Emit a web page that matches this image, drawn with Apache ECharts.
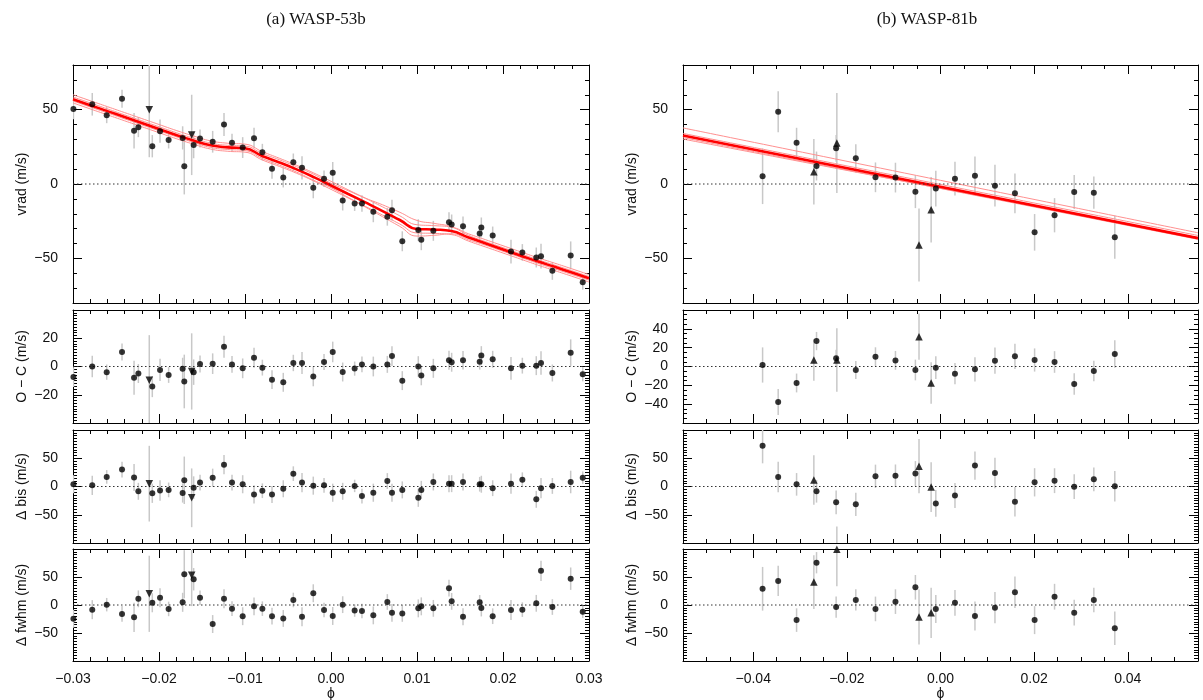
<!DOCTYPE html>
<html>
<head>
<meta charset="utf-8">
<script src="https://cdn.jsdelivr.net/npm/echarts@6/dist/echarts.min.js"></script>
<style>html,body{margin:0;background:#fff}#chart{width:1203px;height:700px}</style>
</head>
<body>
<div id="chart"></div>
<script>
// ---- WASP-53b (left) ----
var phaseA = [-0.02995,-0.02776,-0.02608,-0.0243,-0.0229,-0.0224,-0.02113,-0.02078,-0.01988,-0.01888,-0.01725,-0.01706,-0.0162,-0.01597,-0.01523,-0.01376,-0.01244,-0.01151,-0.01027,-0.00895,-0.00798,-0.00686,-0.00555,-0.00438,-0.00337,-0.00206,-0.00081,0.0002,0.00136,0.00275,0.0036,0.00492,0.00655,0.00709,0.00829,0.01015,0.0105,0.0119,0.01372,0.01403,0.01535,0.01729,0.01748,0.0188,0.02093,0.02225,0.02387,0.02442,0.02574,0.02787,0.02927];
var markA = ['o','o','o','o','o','o','v','o','o','o','o','o','v','o','o','o','o','o','o','o','o','o','o','o','o','o','o','o','o','o','o','o','o','o','o','o','o','o','o','o','o','o','o','o','o','o','o','o','o','o','o'];
var vradA = [50.5,53.6,46.3,57.3,35.8,38.2,50,25.4,35.5,29.5,31,12,33,26.3,30.6,28.4,40,27.7,24.5,30.8,21.4,10.2,4.4,14.7,10.9,-2.6,3.5,7.5,-11.1,-13.1,-13.1,-18.7,-22,-17.6,-38.5,-31,-37.5,-31.5,-25.7,-27.2,-28.4,-33.3,-29.2,-34.6,-45.4,-46,-49.4,-48.5,-58.4,-48,-66];
var errA = [7,7.6,5.4,6,12,6.7,32,7.5,7.8,5.6,7.8,19,27,9,6,7.3,7.8,6,7,7,5.6,6.7,6.7,5.8,7.8,7,5.6,7.3,6.7,5,5.6,7,6,7,6.7,7.3,7,6.7,6.7,6.7,6.5,5.6,6.7,6,8,5.6,6.7,8.3,6,9.4,5];
var ocA = [-7.5,0,-4,10.3,-8,-5,-9.8,-14.2,-2.4,-6,-1.6,-10.6,-3.5,-4,1.8,2,14,1.5,-1.3,6.2,-0.8,-9.3,-11.2,2.5,2.5,-7,3.2,10.3,-3.9,-1.5,1.5,0,1.5,7.4,-10,0,-6.3,-1.3,4.4,3,4.4,3.4,7.7,5.1,-1.3,0.6,0.6,2.5,-4.6,9.8,-5.5];
var bisA = [4,2,17,30,16,-8.5,5,-12,-7,-6,-11.5,11,-20,-2,7,15.6,38.6,7,4,-14,-7.5,-14,-4,22.7,7,1.5,2,-11,-8.5,1,-17,-11,9.7,-11,-6,-20,-6,8,5,5,8,4,4,-3,5,12,-22.7,-3,1,8,15.6];
var errBisA = [16,17,12,14,24,15,67,17,18,13,17,42,52,20,14,16,17,14,16,16,13,15,15,13,17,16,13,16,15,11,13,16,14,16,15,16,16,15,15,15,15,13,15,14,18,13,15,18,14,20,11];
var fwhmA = [-24.5,-8.3,0.6,-16,-22,11,20,4,13,-7,4.8,55,53,46,13,-34,11,-6.5,-20,-2.4,-6.5,-20,-24,9,-21,21,-9,-19.6,0.6,-10,-10.7,-18.5,5.4,-14,-15,-6,-2.4,-6,30,6.5,-21,4.8,-5.4,-20,-9,-8.3,3,61,-3.6,47,-12];
var errFwhmA = [16,17,12,14,26,15,68,17,17,13,17,43,55,20,13,16,17,13,16,16,13,15,15,13,17,16,13,16,15,11,13,16,14,16,15,16,16,15,15,15,15,13,15,14,18,13,15,18,14,20,11];

var modelPhaseA = [-0.030,-0.028,-0.026,-0.024,-0.022,-0.020,-0.018,-0.016,-0.014,-0.012,-0.010,-0.008,-0.006,-0.004,-0.002,0.000,0.002,0.004,0.006,0.008,0.010,0.012,0.014,0.016,0.018,0.020,0.022,0.024,0.026,0.028,0.030];
var modelA = [57.0,53.0,49.0,45.0,41.0,37.0,33.0,29.3,26.0,24.6,24.0,18.8,14.5,9.8,4.6,-1.0,-6.7,-12.4,-18.2,-24.2,-30.2,-30.6,-31.6,-36.0,-40.0,-44.0,-48.0,-52.0,-55.7,-59.5,-63.4];
var pinkA1 = [60.0,56.0,52.0,48.0,44.0,40.0,36.0,32.3,29.0,27.4,26.8,21.8,17.3,12.6,7.4,1.8,-3.9,-9.6,-15.4,-21.4,-27.4,-28.0,-29.0,-33.5,-37.5,-41.5,-45.5,-49.5,-53.2,-57.0,-60.9];
var pinkA2 = [54.5,50.5,46.5,42.5,38.5,34.5,30.5,26.8,23.5,22.0,21.4,16.2,11.8,7.2,2.0,-3.6,-9.4,-15.1,-20.9,-26.9,-32.9,-33.2,-34.0,-38.4,-42.4,-46.4,-50.4,-54.4,-58.2,-62.0,-65.9];
var pinkA3 = [58.5,54.5,50.5,46.5,42.5,38.5,34.5,30.8,27.5,26.0,25.5,20.5,16.3,11.6,6.5,0.5,-4.5,-9.5,-14.0,-19.0,-24.5,-26.5,-28.8,-34.5,-38.8,-42.8,-46.8,-50.8,-54.5,-58.3,-62.2];
var pinkA4 = [55.8,51.8,47.8,43.8,39.8,35.8,31.8,28.0,24.6,23.2,22.5,17.2,12.7,8.0,2.5,-2.5,-9.0,-15.5,-22.0,-28.5,-35.0,-34.5,-33.5,-37.5,-41.2,-45.2,-49.2,-53.2,-57.0,-60.8,-64.6];

// ---- WASP-81b (right) ----
var phaseB = [-0.038,-0.03467,-0.03074,-0.02705,-0.02648,-0.02229,-0.02214,-0.01809,-0.01389,-0.00962,-0.00536,-0.00459,-0.0020,-0.0010,0.00309,0.00736,0.01163,0.0159,0.0201,0.02436,0.02856,0.03275,0.03723];
var markB = ['o','o','o','^','o','o','^','o','o','o','o','^','^','o','o','o','o','o','o','o','o','o','o'];
var vradB = [5.2,48.6,27.8,8.3,12.1,24,27.6,17.3,4.5,4.3,-5.2,-41,-17.3,-3.1,3.6,5.6,-1.1,-6.3,-32.5,-21,-5.4,-5.8,-35.8];
var errB = [18.7,13.8,10,22,9.7,9,33.6,9.5,10,10,11,24.6,22,12,11.3,12.9,14,13.4,12.3,11.5,11.4,10.9,14.5];
var ocB = [1.6,-37.7,-17.5,6.9,27,8.7,6.9,-3.7,10.4,6.5,-3.7,31.7,-17.5,-1.2,-7.6,-3,6.2,10.8,6.9,4.8,-18.6,-4.8,13.3];
var bisB = [72,16.8,3.8,11.5,-8.5,-28,-117,-31.6,18,19,23,36,-1,-30,-16,37,24,-27,7.4,10.3,-0.3,12.7,0.4];
var errBisB = [31,27,20,44,20,21,46,20.7,20.7,20,22,48,44,23.6,22,25,27,26,25,22,22,21,27];
var fwhmB = [29,43,-27,41,75.5,-3.6,99.5,9,-7,6,31.6,-21.5,-14,-7,4,-19.6,-4.8,22.7,-27,14.8,-13.8,9,-41.6];
var errFwhmB = [39,27,21,48,19,19,66,19,22,22,22,49,45,25,23,26,28,28,25,23,23,22,30];

var modelPhaseB = [-0.055, 0.055];
var modelB = [32.6, -36.4];
var pinkB1 = [37.7, -32.8];
var pinkB2 = [34.0, -34.6];
var pinkB3 = [31.2, -37.2];
var pinkB4 = [30.2, -36.0];

// tick values
var xMajorA = [-0.03,-0.02,-0.01,0,0.01,0.02,0.03];
var xMajorB = [-0.04,-0.02,0,0.02,0.04];
var vradTicks = [-50,0,50];
var ocTicksA = [-20,0,20];
var ocTicksB = [-40,-20,0,20,40];
var bisTicks = [-50,0,50];

var FONT = 'Liberation Sans';
var chart = echarts.init(document.getElementById('chart'));

function fmt(dec) {
    return function (v) {
        var s = Math.abs(v).toFixed(dec);
        return (v < -1e-9 ? '\u2212' : '') + s;
    };
}

var grids = [], xAxes = [], yAxes = [], series = [];

function addPanel(g, p) {
    grids.push(p.grid);
    var xi = xAxes.length, yi = yAxes.length;
    ['bottom', 'top'].forEach(function (pos) {
        xAxes.push({
            type: 'value', gridIndex: g, position: pos, min: p.xmin, max: p.xmax, interval: p.xstep,
            axisLine: { show: true, onZero: false, lineStyle: { color: '#000', width: 1 } },
            axisTick: { inside: true, length: 4, lineStyle: { color: '#000' } },
            axisLabel: { show: false }, splitLine: { show: false }
        });
        var major = {
            type: 'value', gridIndex: g, position: pos, min: p.xmin, max: p.xmax,
            axisLine: { show: false, onZero: false },
            axisTick: { inside: true, length: 9, customValues: p.xmajor, lineStyle: { color: '#000' } },
            axisLabel: { show: pos === 'bottom' && p.xlab, customValues: p.xmajor, formatter: fmt(2),
                margin: 11, fontFamily: FONT, fontSize: 14, color: '#111' },
            splitLine: { show: false }
        };
        if (pos === 'bottom' && p.xlab) {
            major.name = '\u03D5';
            major.nameLocation = 'middle';
            major.nameGap = 24;
            major.nameTextStyle = { fontFamily: FONT, fontSize: 14, color: '#111' };
        }
        xAxes.push(major);
    });
    ['left', 'right'].forEach(function (pos) {
        yAxes.push({
            type: 'value', gridIndex: g, position: pos, min: p.ymin, max: p.ymax, interval: p.ystep,
            axisLine: { show: true, onZero: false, lineStyle: { color: '#000', width: 1 } },
            axisTick: { inside: true, length: 4, lineStyle: { color: '#000' } },
            axisLabel: { show: false }, splitLine: { show: false }
        });
        var major = {
            type: 'value', gridIndex: g, position: pos, min: p.ymin, max: p.ymax,
            axisLine: { show: false, onZero: false },
            axisTick: { inside: true, length: 9, customValues: p.ymajor, lineStyle: { color: '#000' } },
            axisLabel: { show: pos === 'left', customValues: p.ymajor, formatter: fmt(0),
                margin: 15, fontFamily: FONT, fontSize: 14, color: '#111' },
            splitLine: { show: false }
        };
        if (pos === 'left') {
            major.name = p.yname;
            major.nameLocation = 'middle';
            major.nameGap = 44;
            major.nameTextStyle = { fontFamily: FONT, fontSize: 14, color: '#111' };
        }
        yAxes.push(major);
    });

    // zero line
    series.push({
        type: 'line', xAxisIndex: xi, yAxisIndex: yi, silent: true, symbol: 'none', z: 5,
        data: [[p.xmin, 0], [p.xmax, 0]],
        lineStyle: { color: '#333', width: 1, type: [1.5, 2.5] }
    });
    // error bars
    series.push({
        type: 'custom', xAxisIndex: xi, yAxisIndex: yi, clip: true, silent: true, z: 2,
        data: p.x.map(function (x, i) { return [x, p.y[i], p.e[i]]; }),
        renderItem: function (params, api) {
            var a = api.coord([api.value(0), api.value(1) - api.value(2)]);
            var b = api.coord([api.value(0), api.value(1) + api.value(2)]);
            return { type: 'line', shape: { x1: a[0], y1: a[1], x2: b[0], y2: b[1] },
                style: { stroke: '#c8c8c8', lineWidth: 1.5 } };
        }
    });
    // model lines
    if (p.models) {
        p.models.forEach(function (m, k) {
            var main = k === p.models.length - 1;
            series.push({
                type: 'line', xAxisIndex: xi, yAxisIndex: yi, silent: true, symbol: 'none',
                smooth: 0.5, z: main ? 4 : 3,
                data: p.mx.map(function (x, i) { return [x, m[i]]; }),
                lineStyle: main ? { color: '#ff0000', width: 2.6 } : { color: '#ff9090', width: 1 }
            });
        });
    }
    // points
    series.push({
        type: 'scatter', xAxisIndex: xi, yAxisIndex: yi, clip: true, silent: true, z: 6,
        itemStyle: { color: '#000' },
        data: p.x.map(function (x, i) {
            var mk = p.m[i];
            if (mk === 'o') return { value: [x, p.y[i]], symbol: 'circle', symbolSize: 6 };
            return { value: [x, p.y[i]], symbol: 'triangle', symbolSize: 7.5, symbolRotate: mk === 'v' ? 180 : 0 };
        })
    });
}

var rows = [[65, 238], [310, 113], [430, 113], [549, 112]];
var colA = { left: 73, width: 516, xmin: -0.03, xmax: 0.03, xstep: 0.002, xmajor: xMajorA };
var colB = { left: 683, width: 515, xmin: -0.055, xmax: 0.055, xstep: 0.005, xmajor: xMajorB };

function panel(col, r, extra) {
    var p = {
        grid: { left: col.left, top: rows[r][0], width: col.width, height: rows[r][1], containLabel: false, outerBoundsMode: 'none' },
        xmin: col.xmin, xmax: col.xmax, xstep: col.xstep, xmajor: col.xmajor, xlab: r === 3
    };
    for (var k in extra) p[k] = extra[k];
    return p;
}

var panels = [
    panel(colA, 0, { ymin: -80, ymax: 80, ystep: 10, ymajor: vradTicks, yname: 'vrad (m/s)', x: phaseA, y: vradA, e: errA, m: markA,
        mx: modelPhaseA, models: [pinkA1, pinkA2, pinkA3, pinkA4, modelA] }),
    panel(colA, 1, { ymin: -40, ymax: 40, ystep: 2, ymajor: ocTicksA, yname: 'O \u2212 C (m/s)', x: phaseA, y: ocA, e: errA, m: markA }),
    panel(colA, 2, { ymin: -100, ymax: 100, ystep: 5, ymajor: bisTicks, yname: '\u0394 bis (m/s)', x: phaseA, y: bisA, e: errBisA, m: markA }),
    panel(colA, 3, { ymin: -100, ymax: 100, ystep: 5, ymajor: bisTicks, yname: '\u0394 fwhm (m/s)', x: phaseA, y: fwhmA, e: errFwhmA, m: markA }),
    panel(colB, 0, { ymin: -80, ymax: 80, ystep: 10, ymajor: vradTicks, yname: 'vrad (m/s)', x: phaseB, y: vradB, e: errB, m: markB,
        mx: modelPhaseB, models: [pinkB1, pinkB2, pinkB3, pinkB4, modelB] }),
    panel(colB, 1, { ymin: -60, ymax: 60, ystep: 5, ymajor: ocTicksB, yname: 'O \u2212 C (m/s)', x: phaseB, y: ocB, e: errB, m: markB }),
    panel(colB, 2, { ymin: -100, ymax: 100, ystep: 5, ymajor: bisTicks, yname: '\u0394 bis (m/s)', x: phaseB, y: bisB, e: errBisB, m: markB }),
    panel(colB, 3, { ymin: -100, ymax: 100, ystep: 5, ymajor: bisTicks, yname: '\u0394 fwhm (m/s)', x: phaseB, y: fwhmB, e: errFwhmB, m: markB })
];
panels.forEach(function (p, g) { addPanel(g, p); });

chart.setOption({
    animation: false,
    backgroundColor: '#fff',
    title: [
        { text: '(a) WASP-53b', left: 311, top: 6, textAlign: 'center',
          textStyle: { fontFamily: 'Liberation Serif', fontSize: 17, fontWeight: 'normal', color: '#111' } },
        { text: '(b) WASP-81b', left: 922, top: 6, textAlign: 'center',
          textStyle: { fontFamily: 'Liberation Serif', fontSize: 17, fontWeight: 'normal', color: '#111' } }
    ],
    grid: grids,
    xAxis: xAxes,
    yAxis: yAxes,
    series: series
});
</script>
</body>
</html>
